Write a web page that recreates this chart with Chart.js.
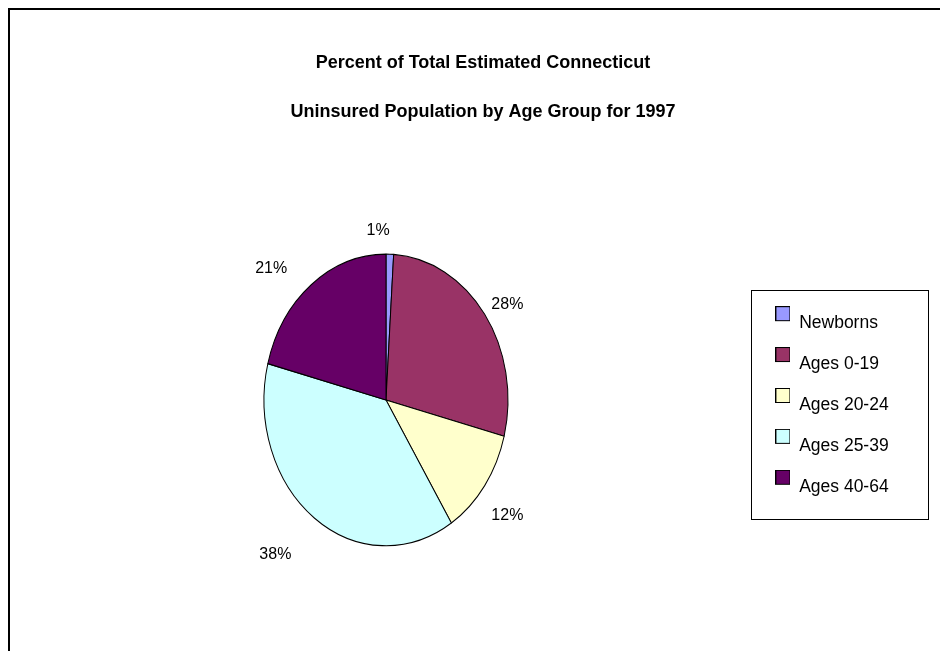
<!DOCTYPE html>
<html>
<head>
<meta charset="utf-8">
<title>Uninsured Population by Age Group, 1997</title>
<script src="https://cdn.jsdelivr.net/npm/chart.js@4.4.0/dist/chart.umd.min.js"></script>
<style>
  html, body { margin: 0; padding: 0; background: #fff; overflow: hidden; }
  .frame {
    position: absolute; left: 8px; top: 8px;
    width: 960px; height: 660px;
    border-left: 2px solid #000; border-top: 2px solid #000;
  }
  canvas { display: block; }
</style>
</head>
<body>
<div class="frame">
  <canvas id="myChart" width="944" height="641"></canvas>
</div>
<script>
var titleLines = ['Percent of Total Estimated Connecticut', 'Uninsured Population by Age Group for 1997'];
var ageGroups = ['Newborns', 'Ages 0-19', 'Ages 20-24', 'Ages 25-39', 'Ages 40-64'];
var percentUninsured = [1, 28, 12, 38, 21];
var sliceColors = ['#9999ff', '#993366', '#ffffcc', '#ccffff', '#660066'];

const FONT = '"Liberation Sans", Arial, Helvetica, sans-serif';
const PIE_STRETCH = 1.195;   // pie is drawn taller than wide
const LEGEND_WIDTH = 194;
const LABEL_DIST = 1.23;     // label distance as a multiple of the radius
const LABEL_SHIFT = { x: -13, y: 10 };  // text sits low-left inside its label box
const SWATCH = 15;
const SWATCH_RAISE = 10;     // legend squares sit above the text line

// legend square drawn near the top of a taller transparent tile,
// so that centring the tile on the text lifts the square
function legendSwatch(color) {
  const c = document.createElement('canvas');
  c.width = SWATCH;
  c.height = SWATCH + 2 * SWATCH_RAISE;
  const g = c.getContext('2d');
  g.fillStyle = color;
  g.fillRect(0, 0, SWATCH, SWATCH);
  g.strokeStyle = '#000';
  g.lineWidth = 1;
  g.strokeRect(0.5, 0.5, SWATCH - 1, SWATCH - 1);
  return c;
}

// squash the pie into an ellipse around its own centre
const ellipsePie = {
  id: 'ellipsePie',
  beforeDatasetsDraw(chart) {
    const arc = chart.getDatasetMeta(0).data[0];
    const ctx = chart.ctx;
    ctx.save();
    ctx.translate(arc.x, arc.y);
    ctx.scale(1, PIE_STRETCH);
    ctx.translate(-arc.x, -arc.y);
  },
  afterDatasetsDraw(chart) {
    chart.ctx.restore();
  }
};

// fixed legend width so the pie sits left of centre
const legendWidth = {
  id: 'legendWidth',
  beforeInit(chart) {
    const originalFit = chart.legend.fit;
    chart.legend.fit = function fit() {
      originalFit.bind(chart.legend)();
      this.width = LEGEND_WIDTH;
    };
  }
};

// percent labels outside each slice + box round the legend
const extras = {
  id: 'extras',
  afterDraw(chart) {
    const ctx = chart.ctx;
    const meta = chart.getDatasetMeta(0);

    ctx.save();
    ctx.font = '16px ' + FONT;
    ctx.fillStyle = '#000';
    ctx.textAlign = 'center';
    ctx.textBaseline = 'middle';
    meta.data.forEach(function(arc, i) {
      const p = arc.getProps(['x', 'y', 'startAngle', 'endAngle', 'outerRadius'], true);
      const mid = (p.startAngle + p.endAngle) / 2;
      const text = percentUninsured[i] + '%';
      const w = ctx.measureText(text).width;
      const r = p.outerRadius * LABEL_DIST;
      const x = p.x + Math.cos(mid) * (r + w / 2) + LABEL_SHIFT.x;
      const y = p.y + Math.sin(mid) * r * PIE_STRETCH + LABEL_SHIFT.y;
      ctx.fillText(text, x, y);
    });

    const legend = chart.legend;
    const boxes = legend.legendHitBoxes;
    const last = boxes[boxes.length - 1];
    const top = Math.round(boxes[0].top - 25);
    const bottom = Math.round(last.top + last.height + 22.5);
    ctx.strokeStyle = '#000';
    ctx.lineWidth = 1;
    ctx.strokeRect(Math.round(legend.left) - 0.5, top + 0.5, 177, bottom - top);
    ctx.restore();
  }
};

const ctx = document.getElementById('myChart').getContext('2d');
new Chart(ctx, {
  type: 'pie',
  data: {
    labels: ageGroups,
    datasets: [{
      data: percentUninsured,
      backgroundColor: sliceColors,
      borderColor: '#000',
      borderWidth: 1
    }]
  },
  options: {
    responsive: false,
    devicePixelRatio: 1,
    animation: false,
    events: [],
    radius: 122,
    layout: {
      padding: { left: 10, right: 8, top: 0, bottom: 0 }
    },
    plugins: {
      title: {
        display: true,
        text: titleLines,
        color: '#000',
        font: { family: FONT, size: 18, weight: 'bold', lineHeight: 2.72 },
        padding: { top: 28.5, bottom: 12.5 }
      },
      legend: {
        position: 'right',
        fullSize: false,
        // empty title only pushes the item column down a little
        title: {
          display: true,
          text: '',
          font: { size: 1, lineHeight: 1 },
          padding: { top: 10, bottom: 0 }
        },
        labels: {
          color: '#000',
          font: { family: FONT, size: 17.5 },
          usePointStyle: true,
          boxWidth: SWATCH,
          boxHeight: SWATCH,
          padding: 23.4,
          generateLabels(chart) {
            const items = Chart.overrides.pie.plugins.legend.labels.generateLabels(chart);
            items.forEach(function(item, i) {
              item.pointStyle = legendSwatch(sliceColors[i]);
            });
            return items;
          }
        }
      },
      tooltip: { enabled: false }
    }
  },
  plugins: [ellipsePie, legendWidth, extras]
});
</script>
</body>
</html>
